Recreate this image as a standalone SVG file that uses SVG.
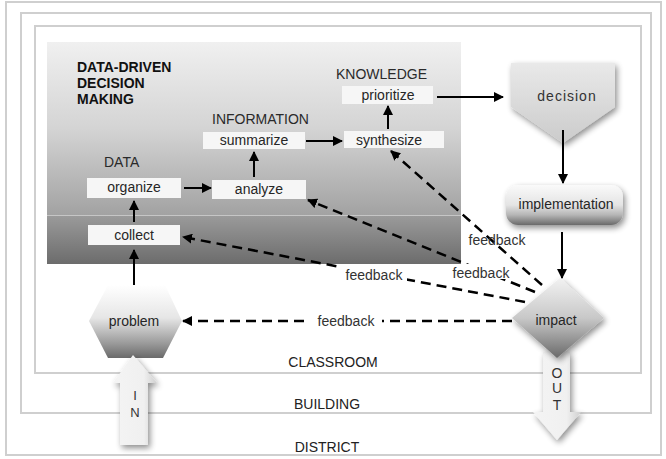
<svg xmlns="http://www.w3.org/2000/svg" width="666" height="459" viewBox="0 0 666 459">
<defs>
<style>
text{font-family:"Liberation Sans",Arial,sans-serif;fill:#262626;}
.frame{fill:none;stroke:#cfcfcf;stroke-width:2;}
.box{fill:#f6f6f6;}
.bt{font-size:14px;text-anchor:middle;}
.hd{font-size:14px;fill:#2a2a2a;}
.ttl{font-size:14px;font-weight:bold;fill:#111;}
.fb{font-size:14px;text-anchor:middle;fill:#333;}
.ln{fill:none;stroke:#000;stroke-width:2;marker-end:url(#ah);}
.dl{fill:none;stroke:#000;stroke-width:2.5;stroke-dasharray:10 6;marker-end:url(#ah);}
.mask{fill:#fff;}
.lvl{font-size:14px;text-anchor:middle;fill:#222;}
.io{font-size:14px;text-anchor:middle;fill:#333;}
</style>
<marker id="ah" viewBox="0 0 10 10" refX="9" refY="5" markerUnits="userSpaceOnUse" markerWidth="10" markerHeight="10" orient="auto"><path d="M0,0 L10,5 L0,10 z" fill="#000"/></marker>
<linearGradient id="gUp" x1="0" y1="0" x2="0" y2="1"><stop offset="0" stop-color="#f0f0f0"/><stop offset="0.5" stop-color="#d4d4d4"/><stop offset="1" stop-color="#a2a2a2"/></linearGradient>
<linearGradient id="gLo" x1="0" y1="0" x2="0" y2="1"><stop offset="0" stop-color="#9a9a9a"/><stop offset="1" stop-color="#6c6c6c"/></linearGradient>
<linearGradient id="gDec" x1="0" y1="0" x2="0" y2="1"><stop offset="0" stop-color="#e9e9e9"/><stop offset="1" stop-color="#cbcbcb"/></linearGradient>
<linearGradient id="gImp" x1="0" y1="0" x2="0" y2="1"><stop offset="0" stop-color="#fafafa"/><stop offset="0.5" stop-color="#e4e4e4"/><stop offset="0.75" stop-color="#b5b5b5"/><stop offset="1" stop-color="#6a6a6a"/></linearGradient>
<linearGradient id="gHex" x1="0" y1="0" x2="0" y2="1"><stop offset="0" stop-color="#ffffff"/><stop offset="0.45" stop-color="#e6e6e6"/><stop offset="0.8" stop-color="#9a9a9a"/><stop offset="1" stop-color="#6a6a6a"/></linearGradient>
<linearGradient id="gDia" x1="0" y1="0" x2="0" y2="1"><stop offset="0" stop-color="#f2f2f2"/><stop offset="0.5" stop-color="#c8c8c8"/><stop offset="1" stop-color="#6a6a6a"/></linearGradient>
<linearGradient id="gArr" x1="0" y1="0" x2="1" y2="0"><stop offset="0" stop-color="#f4f4f4"/><stop offset="0.7" stop-color="#f0f0f0"/><stop offset="1" stop-color="#cfcfcf"/></linearGradient>
<filter id="sh" x="-30%" y="-30%" width="170%" height="170%"><feGaussianBlur in="SourceAlpha" stdDeviation="3"/><feOffset dx="2" dy="3"/><feComponentTransfer><feFuncA type="linear" slope="0.45"/></feComponentTransfer><feMerge><feMergeNode/><feMergeNode in="SourceGraphic"/></feMerge></filter>
</defs>
<rect width="666" height="459" fill="#fff"/>
<g id="frames">
<rect class="frame" x="6" y="2" width="655" height="453"/>
<rect class="frame" x="21" y="13" width="630" height="400"/>
<rect class="frame" x="35" y="26" width="606" height="347"/>
<text class="lvl" x="333" y="367">CLASSROOM</text>
<text class="lvl" x="327" y="409">BUILDING</text>
<text class="lvl" x="327" y="452">DISTRICT</text>
</g>
<g id="panel">
<rect x="47" y="42" width="414" height="173" fill="url(#gUp)"/>
<rect x="47" y="215" width="414" height="1" fill="#c6c6c6"/>
<rect x="47" y="216" width="414" height="48" fill="url(#gLo)"/>
<text class="ttl" x="77" y="72">DATA-DRIVEN</text>
<text class="ttl" x="77" y="88">DECISION</text>
<text class="ttl" x="77" y="104">MAKING</text>
<text class="hd" x="104" y="167">DATA</text>
<text class="hd" x="212" y="124">INFORMATION</text>
<text class="hd" x="336" y="79">KNOWLEDGE</text>
</g>
<g id="collect"><rect class="box" x="88" y="225" width="92" height="20"/><text class="bt" x="134" y="240">collect</text></g>
<g id="organize"><rect class="box" x="87" y="178" width="94" height="20"/><text class="bt" x="134" y="192">organize</text></g>
<g id="analyze"><rect class="box" x="212" y="180" width="94" height="19"/><text class="bt" x="259" y="194">analyze</text></g>
<g id="summarize"><rect class="box" x="203" y="132" width="102" height="17"/><text class="bt" x="254" y="145">summarize</text></g>
<g id="synthesize"><rect class="box" x="344" y="131" width="100" height="17"/><text class="bt" x="389" y="145">synthesize</text></g>
<g id="prioritize"><rect class="box" x="342" y="86" width="91" height="18"/><text class="bt" x="388" y="100">prioritize</text></g>
<g id="decision"><path d="M511,63 L615,63 L615,107 L563,143 L511,107 Z" fill="url(#gDec)" filter="url(#sh)"/><text class="bt" x="567" y="101" style="letter-spacing:1px;fill:#333">decision</text></g>
<g id="implementation"><rect x="506" y="185" width="117" height="40" rx="12" fill="url(#gImp)" filter="url(#sh)"/><text class="bt" x="566" y="209">implementation</text></g>
<g id="problem"><path d="M89,321 L108,285 L165,285 L182,321 L163,358 L108,358 Z" fill="url(#gHex)"/><text class="bt" x="134" y="326">problem</text></g>
<g id="out"><path d="M543,352 L570,352 L570,412 L581,412 L557,440 L533,412 L543,412 Z" fill="url(#gArr)" filter="url(#sh)"/>
<text class="io" x="557" y="378">O</text><text class="io" x="557" y="393">U</text><text class="io" x="557" y="410">T</text></g>
<g id="impact"><path d="M560,278 L604,318 L557,358 L512,318 Z" fill="url(#gDia)" filter="url(#sh)"/><text class="bt" x="556" y="325">impact</text></g>
<g id="in"><path d="M133,355 L157,383 L148,383 L148,445 L120,445 L120,383 L113,383 Z" fill="url(#gArr)" filter="url(#sh)"/>
<text class="io" x="135" y="400" style="font-size:13px">I</text><text class="io" x="135" y="417" style="font-size:13px">N</text></g>
<g id="connectors">
<line class="ln" x1="134" y1="222" x2="134" y2="201"/>
<line class="ln" x1="184" y1="188" x2="211" y2="188"/>
<line class="ln" x1="254" y1="177" x2="254" y2="152"/>
<line class="ln" x1="306" y1="141" x2="342" y2="141"/>
<line class="ln" x1="388" y1="129" x2="388" y2="106"/>
<line class="ln" x1="437" y1="97" x2="503" y2="97"/>
<line class="ln" x1="134" y1="285" x2="134" y2="250"/>
<line class="ln" x1="563" y1="130" x2="563" y2="183"/>
<line class="ln" x1="562" y1="232" x2="562" y2="278"/>
<line class="dl" x1="542" y1="285" x2="391" y2="151"/>
<line class="dl" x1="535" y1="292" x2="308" y2="200"/>
<line class="dl" x1="525" y1="302" x2="183" y2="237"/>
<line class="dl" x1="512" y1="321" x2="183" y2="321"/>
<rect class="mask" x="341" y="266" width="66" height="16"/>
<rect class="mask" x="449" y="264" width="63" height="15"/>
<rect class="mask" x="308" y="313" width="74" height="16"/>
<text class="fb" x="497" y="245">feedback</text>
<text class="fb" x="481" y="278">feedback</text>
<text class="fb" x="374" y="280">feedback</text>
<text class="fb" x="346" y="326">feedback</text>
</g>
</svg>
